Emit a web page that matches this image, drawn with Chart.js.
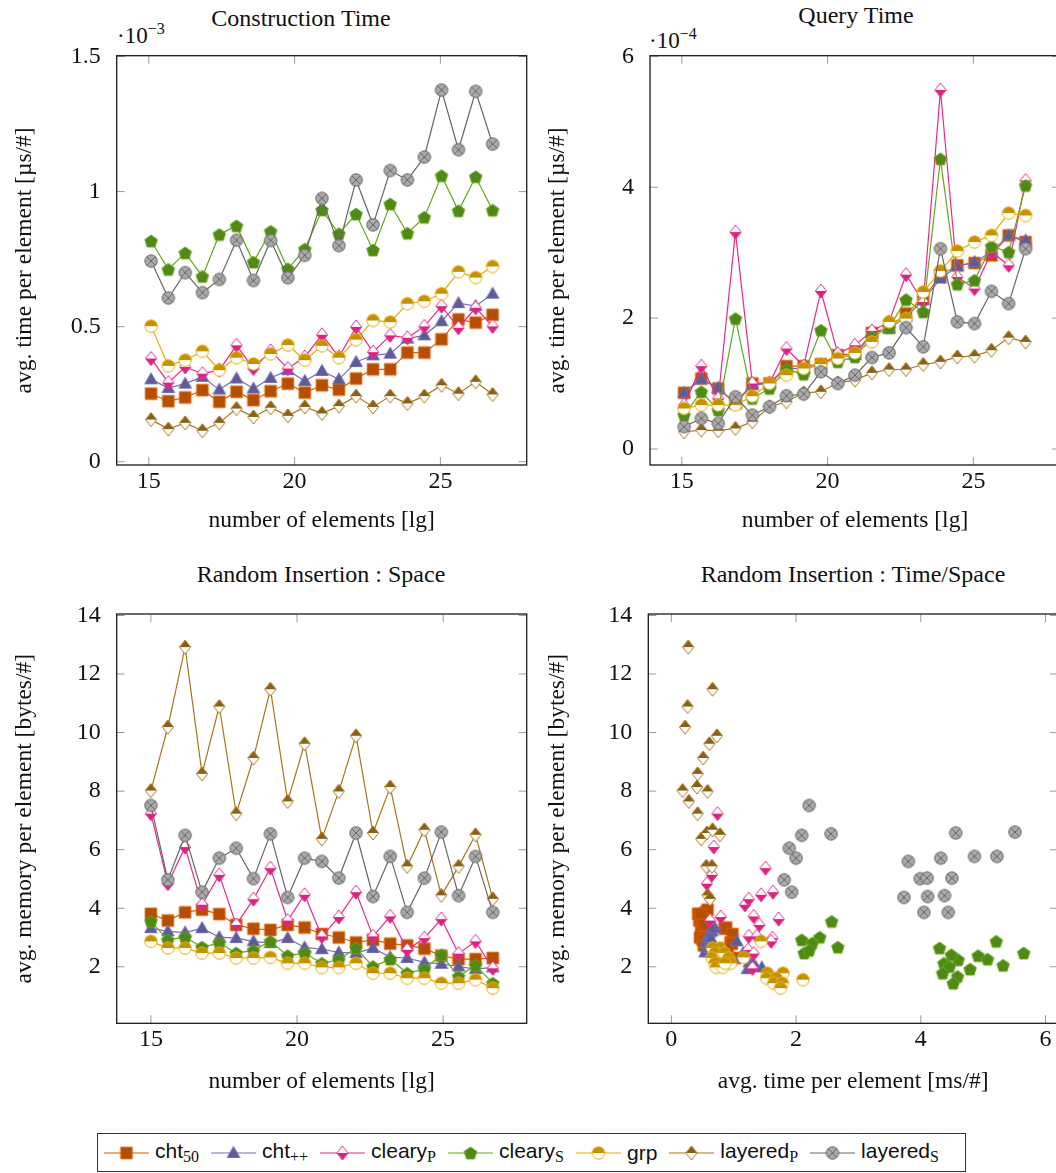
<!DOCTYPE html>
<html>
<head>
<meta charset="utf-8">
<script src="https://cdn.jsdelivr.net/npm/chart.js"></script>
<style>
  body{
    margin: 0;
    width: 1056px;
    height: 1173px;
    overflow: hidden;
    position: relative;
    background: #fff;
    font-family: "Liberation Serif", serif;
    color: #111;
  }
  .pane{ position: absolute; }
  .ttl{
    position: absolute;
    font-size: 24px;
    white-space: nowrap;
    transform: translateX(-50%);
  }
  .exp{
    position: absolute;
    font-size: 23px;
    white-space: nowrap;
  }
  .exp sup{ font-size: 16px; vertical-align: 9px; }
  #legend{
    position: absolute;
    left: 97px; top: 1133px;
    width: 869px; height: 39px;
    box-sizing: border-box;
    border: 1px solid #333;
    display: flex;
    align-items: center;
    padding-left: 6px;
    font-family: "Liberation Sans", sans-serif;
    font-size: 21px;
  }
  .item{ display: flex; align-items: center; margin-right: 12px; white-space: nowrap; }
  .item canvas{ margin-right: 6px; }
  .item sub{ font-family: "Liberation Serif", serif; font-size: 16px; vertical-align: -4px; }
</style>
</head>
<body>

<div class="ttl" style="left:301px;top:5px">Construction Time</div>
<div class="ttl" style="left:856px;top:2px">Query Time</div>
<div class="ttl" style="left:321px;top:561px">Random Insertion : Space</div>
<div class="ttl" style="left:853px;top:561px">Random Insertion : Time/Space</div>
<div class="exp" style="left:117px;top:20px">·10<sup>−3</sup></div>
<div class="exp" style="left:649px;top:25px">·10<sup>−4</sup></div>

<div class="pane" style="left:0;top:0"><canvas id="cTL" width="535" height="545"></canvas></div>
<div class="pane" style="left:535px;top:0"><canvas id="cTR" width="535" height="545"></canvas></div>
<div class="pane" style="left:0;top:560px"><canvas id="cBL" width="535" height="545"></canvas></div>
<div class="pane" style="left:535px;top:560px"><canvas id="cBR" width="535" height="545"></canvas></div>

<div id="legend"></div>

<script>
// number of elements [lg]
const xLg    = [15.08, 15.67, 16.25, 16.84, 17.42, 18.01, 18.59, 19.18, 19.77, 20.35, 20.94, 21.52, 22.11, 22.69, 23.28, 23.87, 24.45, 25.04, 25.62, 26.21, 26.79];
const xLgIns = [15.00, 15.58, 16.17, 16.75, 17.34, 17.92, 18.51, 19.09, 19.68, 20.26, 20.85, 21.43, 22.02, 22.60, 23.19, 23.77, 24.36, 24.94, 25.53, 26.11, 26.70];

// construction time, units of 1e-3 us/#
const consCht50   = [0.252,0.224,0.238,0.265,0.222,0.259,0.228,0.261,0.289,0.256,0.283,0.267,0.308,0.342,0.342,0.404,0.404,0.453,0.527,0.515,0.544];
const consChtpp   = [0.305,0.273,0.289,0.314,0.267,0.308,0.271,0.310,0.339,0.299,0.336,0.305,0.369,0.394,0.400,0.456,0.468,0.520,0.587,0.576,0.622];
const consClearyP = [0.382,0.293,0.351,0.326,0.339,0.431,0.345,0.410,0.345,0.388,0.470,0.388,0.499,0.406,0.468,0.459,0.501,0.576,0.496,0.570,0.501];
const consClearyS = [0.817,0.712,0.773,0.686,0.841,0.873,0.739,0.853,0.714,0.787,0.932,0.844,0.917,0.784,0.954,0.846,0.905,1.059,0.929,1.055,0.931];
const consGrp     = [0.502,0.355,0.376,0.409,0.339,0.385,0.362,0.399,0.432,0.376,0.429,0.385,0.452,0.523,0.517,0.585,0.594,0.622,0.703,0.682,0.723];
const consLayP    = [0.156,0.121,0.144,0.115,0.144,0.197,0.166,0.200,0.170,0.203,0.179,0.206,0.243,0.203,0.243,0.216,0.243,0.283,0.252,0.296,0.249];
const consLayS    = [0.743,0.606,0.700,0.626,0.675,0.820,0.671,0.819,0.681,0.764,0.975,0.800,1.043,0.877,1.078,1.043,1.128,1.376,1.155,1.371,1.176];

// query time, units of 1e-4 us/#
const qCht50   = [0.859,1.078,0.925,0.697,1.002,1.002,1.266,1.266,1.297,1.434,1.459,1.775,1.856,2.069,2.298,2.654,2.807,2.842,2.959,3.264,3.163];
const qChtpp   = [0.859,1.063,0.936,0.697,0.976,1.002,1.230,1.230,1.281,1.408,1.434,1.764,1.841,2.019,2.273,2.603,2.791,2.857,3.010,3.264,3.188];
const qClearyP = [0.671,1.266,0.773,3.315,1.002,1.012,1.536,1.266,2.415,1.459,1.586,1.805,1.942,2.664,2.247,5.486,2.629,2.451,3.010,2.807,4.103];
const qClearyS = [0.519,0.875,0.595,1.993,0.773,0.925,1.215,1.144,1.815,1.332,1.408,1.714,1.856,2.283,2.095,4.434,2.517,2.578,3.097,3.010,4.027];
const qGrp     = [0.620,0.671,0.671,0.671,0.808,1.002,1.129,1.230,1.297,1.383,1.469,1.637,1.942,1.993,2.400,2.720,3.025,3.163,3.264,3.605,3.569];
const qLayP    = [0.264,0.290,0.280,0.315,0.417,0.646,0.722,0.859,0.875,1.012,1.053,1.164,1.215,1.215,1.292,1.332,1.408,1.419,1.510,1.703,1.637];
const qLayS    = [0.341,0.468,0.392,0.798,0.519,0.646,0.814,0.839,1.180,1.002,1.129,1.398,1.469,1.856,1.561,3.061,1.942,1.917,2.410,2.222,3.061];

// random insertion: memory, bytes/#
const spCht50   = [3.81,3.58,3.86,3.95,3.80,3.43,3.30,3.26,3.43,3.34,3.12,3.00,2.83,2.92,2.79,2.73,2.62,2.38,2.26,2.26,2.30];
const spChtpp   = [3.32,3.21,3.17,3.32,3.01,2.98,2.87,2.81,2.98,2.66,2.60,2.49,2.47,2.64,2.33,2.30,2.15,2.10,2.01,1.92,1.98];
const spClearyP = [7.23,4.84,6.09,4.12,5.14,3.43,4.31,5.37,3.58,4.46,3.04,3.70,4.55,3.04,3.72,2.58,2.98,3.63,2.45,2.87,1.95];
const spClearyS = [3.55,2.92,3.01,2.67,2.81,2.47,2.56,2.87,2.38,2.47,2.12,2.24,2.64,2.01,2.26,1.78,1.92,2.41,1.67,2.05,1.44];
const spGrp     = [2.87,2.64,2.64,2.47,2.47,2.30,2.30,2.32,2.12,2.12,1.98,1.98,2.12,1.78,1.78,1.61,1.61,1.44,1.44,1.56,1.27];
const spLayP    = [8.02,10.19,12.92,8.59,10.89,7.23,9.13,11.48,7.65,9.62,6.37,7.99,9.89,6.57,8.14,5.43,6.68,4.44,5.43,6.51,4.32];
const spLayS    = [7.51,4.97,6.49,4.55,5.71,6.05,5.01,6.54,4.37,5.71,5.60,5.03,6.57,4.40,5.77,3.86,5.03,6.60,4.43,5.77,3.86];

// random insertion: time, ms/#
const tmCht50   = [0.43,0.45,0.55,0.58,0.47,0.49,0.85,0.48,0.52,0.88,0.98,0.46,0.95,0.50,0.97,0.52,0.90,0.80,0.85,0.95,1.02];
const tmChtpp   = [0.70,0.65,0.62,0.66,0.58,0.60,1.05,0.55,0.63,0.57,0.60,0.54,1.15,0.62,1.20,1.10,1.25,1.30,1.35,1.22,1.45];
const tmClearyP = [0.74,0.57,0.68,1.18,0.65,1.41,1.24,1.51,0.62,1.44,1.24,0.79,1.63,1.37,1.32,1.23,1.62,1.72,1.32,1.60,1.30];
const tmClearyS = [2.57,2.09,2.38,2.67,2.26,2.13,2.21,5.21,4.92,5.65,4.37,4.60,4.30,4.46,5.07,4.35,4.79,4.49,4.59,5.32,4.52];
const tmGrp     = [1.44,0.78,0.66,0.70,0.85,0.65,0.92,1.16,0.70,0.95,0.72,0.82,0.86,1.54,1.79,1.53,1.68,1.64,1.78,2.11,1.75];
const tmLayP    = [0.18,0.22,0.27,0.42,0.26,0.42,0.51,0.66,0.28,0.61,0.48,0.58,0.73,0.57,0.41,0.56,0.66,0.58,0.65,0.78,0.62];
const tmLayS    = [2.21,1.81,2.09,1.93,2.00,1.89,3.99,2.56,3.73,4.32,3.80,4.10,4.56,4.11,4.86,4.05,4.50,5.51,4.38,5.22,4.44];

const names   = ['cht<sub>50</sub>', 'cht<sub>++</sub>', 'cleary<sub>P</sub>', 'cleary<sub>S</sub>', 'grp', 'layered<sub>P</sub>', 'layered<sub>S</sub>'];
const colors  = ['#d95f02', '#7570b3', '#e7298a', '#66a61e', '#e6ab02', '#a6761d', '#666666'];
const fills   = ['#b34e02', '#5f5a98', '#d8247f', '#4f8a16', '#c49102', '#8a6017', '#aaaaaa'];
const shapes  = ['square', 'triangle', 'diamondLow', 'pentagon', 'circleTop', 'diamondTop', 'otimes'];

const SERIF = '"Liberation Serif", serif';
const TICK_FONT = { family: SERIF, size: 24 };
const LABEL_FONT = { family: SERIF, size: 23.5 };

function marker(kind, col, fill) {
  const c = document.createElement('canvas');
  c.width = 18; c.height = 18;
  const g = c.getContext('2d');
  g.translate(9, 9);
  g.lineWidth = 1;
  g.strokeStyle = col;
  const path = () => {
    g.beginPath();
    if (kind === 'square') g.rect(-5.8, -5.8, 11.6, 11.6);
    else if (kind === 'triangle') { g.moveTo(0, -6.5); g.lineTo(6.3, 4.5); g.lineTo(-6.3, 4.5); g.closePath(); }
    else if (kind === 'diamondLow' || kind === 'diamondTop') { g.moveTo(0, -7); g.lineTo(5.6, 0); g.lineTo(0, 7); g.lineTo(-5.6, 0); g.closePath(); }
    else if (kind === 'pentagon') {
      for (let k = 0; k < 5; k++) {
        const a = -Math.PI / 2 + k * 2 * Math.PI / 5;
        g[k ? 'lineTo' : 'moveTo'](6.6 * Math.cos(a), 6.6 * Math.sin(a) + 0.6);
      }
      g.closePath();
    }
    else g.arc(0, 0, 6.2, 0, Math.PI * 2);
  };
  if (kind === 'diamondLow' || kind === 'diamondTop' || kind === 'circleTop') {
    path(); g.fillStyle = '#fff'; g.fill();
    g.save();
    g.beginPath();
    if (kind === 'diamondLow') g.rect(-9, 0, 18, 9); else g.rect(-9, -9, 18, 9);
    g.clip();
    path(); g.fillStyle = fill; g.fill();
    g.restore();
    path(); g.stroke();
  } else {
    path(); g.fillStyle = fill; g.fill(); g.stroke();
    if (kind === 'otimes') {
      g.beginPath();
      g.moveTo(-4.3, -4.3); g.lineTo(4.3, 4.3);
      g.moveTo(4.3, -4.3); g.lineTo(-4.3, 4.3);
      g.stroke();
    }
  }
  return c;
}

const marks = shapes.map((s, i) => marker(s, colors[i], fills[i]));

// plot frame with inward tick marks on all sides
const framePlugin = {
  id: 'frame',
  beforeDatasetsDraw(chart) {
    const { ctx, chartArea: a, scales } = chart;
    ctx.save();
    ctx.strokeStyle = '#9a9a9a';
    ctx.lineWidth = 1;
    ctx.beginPath();
    scales.x.ticks.forEach(t => {
      const px = scales.x.getPixelForValue(t.value);
      ctx.moveTo(px, a.bottom); ctx.lineTo(px, a.bottom - 8);
      ctx.moveTo(px, a.top); ctx.lineTo(px, a.top + 8);
    });
    scales.y.ticks.forEach(t => {
      const py = scales.y.getPixelForValue(t.value);
      ctx.moveTo(a.left, py); ctx.lineTo(a.left + 8, py);
      ctx.moveTo(a.right, py); ctx.lineTo(a.right - 8, py);
    });
    ctx.stroke();
    ctx.strokeStyle = '#1a1a1a';
    ctx.lineWidth = 1.3;
    ctx.strokeRect(a.left, a.top, a.right - a.left, a.bottom - a.top);
    ctx.restore();
  }
};

function makeChart(id, o) {
  return new Chart(document.getElementById(id), {
    type: 'scatter',
    data: {
      datasets: o.ys.map((ys, i) => ({
        label: names[i],
        data: ys.map((y, k) => ({ x: o.xs[i][k], y: y })),
        showLine: o.lines,
        borderColor: colors[i],
        backgroundColor: colors[i],
        borderWidth: 1.2,
        pointStyle: marks[i],
        pointRadius: 6,
        pointHoverRadius: 6,
        order: o.ys.length - i
      }))
    },
    options: {
      responsive: false,
      animation: false,
      events: [],
      layout: { padding: { top: o.padTop, right: o.padRight, left: 0, bottom: 0 } },
      plugins: { legend: { display: false }, tooltip: { enabled: false } },
      scales: {
        x: {
          type: 'linear', min: o.xMin, max: o.xMax,
          grid: { display: false }, border: { display: false },
          ticks: { padding: -6, color: '#111', font: TICK_FONT, maxRotation: 0, callback: v => String(v) },
          afterBuildTicks: s => { s.ticks = o.xTicks.map(v => ({ value: v })); },
          afterFit: s => { s.height = o.xH; },
          title: { display: true, text: o.xTitle, color: '#111', font: LABEL_FONT, padding: { top: 0, bottom: o.xTitlePad } }
        },
        y: {
          type: 'linear', min: o.yMin, max: o.yMax,
          grid: { display: false }, border: { display: false },
          ticks: { padding: 8, color: '#111', font: TICK_FONT, callback: v => String(v) },
          afterBuildTicks: s => { s.ticks = o.yTicks.map(v => ({ value: v })); },
          afterFit: s => { s.width = o.yW; },
          title: { display: true, text: o.yTitle, color: '#111', font: LABEL_FONT, padding: { top: o.yTitlePad, bottom: 0 } }
        }
      }
    },
    plugins: [framePlugin]
  });
}

const lgTicks = [15, 20, 25];
const consTicks = [0, 0.5, 1, 1.5];
const queryTicks = [0, 2, 4, 6];
const spaceTicks = [2, 4, 6, 8, 10, 12, 14];
const timeTicks = [0, 2, 4, 6];
const sevenTimes = a => [a, a, a, a, a, a, a];

makeChart('cTL', {
  xs: sevenTimes(xLg), ys: [consCht50, consChtpp, consClearyP, consClearyS, consGrp, consLayP, consLayS],
  lines: true, xMin: 13.9, xMax: 27.96, yMin: -0.012, yMax: 1.503,
  xTicks: lgTicks, yTicks: consTicks,
  xTitle: 'number of elements [lg]', yTitle: 'avg. time per element [µs/#]',
  padTop: 55.7, padRight: 8.3, xH: 80, yW: 116.7, xTitlePad: 9.9, yTitlePad: 10.9
});

makeChart('cTR', {
  xs: sevenTimes(xLg), ys: [qCht50, qChtpp, qClearyP, qClearyS, qGrp, qLayP, qLayS],
  lines: true, xMin: 13.91, xMax: 27.97, yMin: -0.244, yMax: 6.01,
  xTicks: lgTicks, yTicks: queryTicks,
  xTitle: 'number of elements [lg]', yTitle: 'avg. time per element [µs/#]',
  padTop: 55.7, padRight: 10, xH: 80, yW: 115, xTitlePad: 9.9, yTitlePad: 8.9
});

makeChart('cBL', {
  xs: sevenTimes(xLgIns), ys: [spCht50, spChtpp, spClearyP, spClearyS, spGrp, spLayP, spLayS],
  lines: true, xMin: 13.83, xMax: 27.86, yMin: 0.07, yMax: 14.05,
  xTicks: lgTicks, yTicks: spaceTicks,
  xTitle: 'number of elements [lg]', yTitle: 'avg. memory per element [bytes/#]',
  padTop: 54, padRight: 8.3, xH: 81.7, yW: 116.7, xTitlePad: 8.9, yTitlePad: 10.9
});

makeChart('cBR', {
  xs: [tmCht50, tmChtpp, tmClearyP, tmClearyS, tmGrp, tmLayP, tmLayS],
  ys: [spCht50, spChtpp, spClearyP, spClearyS, spGrp, spLayP, spLayS],
  lines: false, xMin: -0.37, xMax: 6.2, yMin: 0.07, yMax: 14.05,
  xTicks: timeTicks, yTicks: spaceTicks,
  xTitle: 'avg. time per element [ms/#]', yTitle: 'avg. memory per element [bytes/#]',
  padTop: 54, padRight: 12, xH: 81.7, yW: 113.3, xTitlePad: 8.9, yTitlePad: 8.9
});

// legend
const legend = document.getElementById('legend');
names.forEach((n, i) => {
  const item = document.createElement('div');
  item.className = 'item';
  const c = document.createElement('canvas');
  c.width = 45; c.height = 20;
  const g = c.getContext('2d');
  g.strokeStyle = colors[i];
  g.lineWidth = 1.2;
  g.beginPath(); g.moveTo(0, 10); g.lineTo(45, 10); g.stroke();
  g.drawImage(marks[i], 22.5 - 9, 10 - 9);
  item.appendChild(c);
  const t = document.createElement('span');
  t.innerHTML = n;
  item.appendChild(t);
  legend.appendChild(item);
});
</script>
</body>
</html>
